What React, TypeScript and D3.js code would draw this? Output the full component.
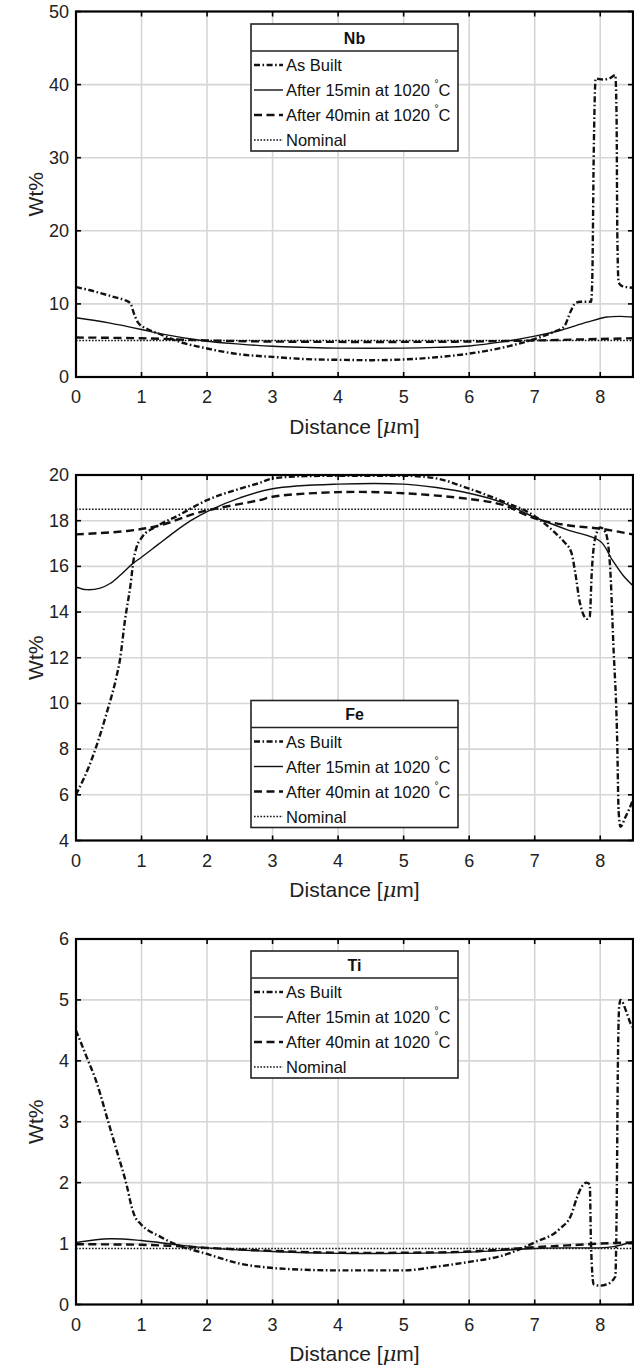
import React from "react";
import * as d3 from "d3";

// distance ticks shared by all three panels
const xTicks = [0, 1, 2, 3, 4, 5, 6, 7, 8];
const seriesNames = ["As Built", "After 15min at 1020 ", "After 40min at 1020 ", "Nominal"];

// Nb profile [distance µm, wt%]
const nbAsBuilt = [[0,12.3],[0.2,11.9],[0.4,11.4],[0.6,10.9],[0.75,10.5],[0.8,10.3],[0.84,9.9],[0.88,8.8],[0.95,7.4],[1.08,6.6],[1.3,5.8],[1.55,4.9],[2,3.9],[2.5,3.1],[3,2.75],[3.5,2.45],[4,2.35],[4.5,2.3],[5,2.4],[5.5,2.7],[6,3.2],[6.5,4.0],[7,5.2],[7.3,6.2],[7.45,6.9],[7.55,9.0],[7.62,10.1],[7.7,10.3],[7.86,10.3],[7.88,14],[7.9,30],[7.93,40.8],[8.05,40.7],[8.15,40.9],[8.23,41.3],[8.25,35],[8.26,20],[8.28,13],[8.32,12.5],[8.4,12.3],[8.5,12.2]];
const nb15 = [[0,8.1],[0.5,7.4],[1,6.5],[1.3,5.9],[2,4.9],[2.5,4.5],[3,4.2],[3.5,4.05],[4,3.95],[5,3.95],[5.5,4.05],[6,4.25],[6.5,4.8],[7,5.6],[7.4,6.4],[7.8,7.5],[8.1,8.2],[8.3,8.3],[8.5,8.2]];
const nb40 = [[0,5.4],[1,5.3],[2,5.0],[3,4.85],[4,4.8],[5,4.8],[6,4.85],[7,5.0],[8,5.2],[8.5,5.3]];
const nbNominal = 5.0;
const nbTicks = [0, 10, 20, 30, 40, 50];

// Fe profile
const feAsBuilt = [[0,6.0],[0.24,7.55],[0.47,9.6],[0.62,11.2],[0.67,11.9],[0.75,13.7],[0.83,15.15],[0.88,16.3],[0.92,16.8],[1.0,17.25],[1.23,17.75],[1.54,18.2],[2,18.9],[2.5,19.4],[2.8,19.65],[3,19.85],[3.5,19.95],[4,19.97],[5,19.97],[5.5,19.85],[6,19.4],[6.5,18.86],[7,18.2],[7.3,17.5],[7.44,17.1],[7.56,16.6],[7.62,15.7],[7.69,14.4],[7.8,13.7],[7.84,13.8],[7.87,15.7],[7.92,17.2],[8.0,17.7],[8.08,17.5],[8.15,16.0],[8.2,12.6],[8.26,8.2],[8.28,5.3],[8.31,4.6],[8.38,5.0],[8.46,5.5],[8.5,5.8]];
const fe15 = [[0,15.1],[0.16,14.98],[0.37,15.05],[0.52,15.25],[0.67,15.6],[0.87,16.13],[1.0,16.4],[1.25,16.95],[1.5,17.5],[1.75,18.0],[2,18.4],[2.5,19.0],[3,19.4],[4,19.6],[5,19.6],[5.5,19.45],[6,19.2],[6.5,18.8],[7,18.15],[7.5,17.6],[8,17.1],[8.18,16.3],[8.35,15.6],[8.5,15.15]];
const fe40 = [[0,17.4],[0.78,17.55],[1.29,17.8],[1.8,18.3],[2,18.45],[2.8,18.9],[3,19.05],[4,19.25],[5,19.2],[6,18.95],[6.5,18.7],[7,18.1],[7.5,17.8],[8,17.65],[8.5,17.4]];
const feNominal = 18.5;
const feTicks = [4, 6, 8, 10, 12, 14, 16, 18, 20];

// Ti profile
const tiAsBuilt = [[0,4.5],[0.16,4.07],[0.32,3.63],[0.47,3.08],[0.62,2.53],[0.78,1.93],[0.85,1.6],[0.9,1.44],[0.98,1.33],[1.29,1.11],[1.54,0.98],[2,0.83],[2.5,0.67],[3,0.6],[3.5,0.57],[4,0.56],[5,0.56],[5.5,0.62],[6,0.7],[6.5,0.8],[7,1.02],[7.38,1.24],[7.56,1.48],[7.64,1.74],[7.71,1.92],[7.79,2.0],[7.84,1.97],[7.86,0.95],[7.9,0.33],[8.0,0.31],[8.1,0.33],[8.23,0.46],[8.25,1.5],[8.27,4.0],[8.29,4.9],[8.31,5.0],[8.4,4.8],[8.46,4.62],[8.5,4.55]];
const ti15 = [[0,1.02],[0.52,1.08],[1.0,1.05],[1.54,0.98],[2,0.93],[3,0.87],[4,0.84],[5,0.84],[6,0.86],[7,0.92],[7.5,0.93],[8,0.93],[8.2,0.95],[8.5,1.03]];
const ti40 = [[0,0.99],[1,0.98],[1.5,0.96],[2,0.93],[3,0.88],[4,0.85],[5,0.85],[6,0.87],[7,0.94],[7.5,0.97],[8,1.0],[8.5,1.02]];
const tiNominal = 0.92;
const tiTicks = [0, 1, 2, 3, 4, 5, 6];

const W = 634, H = 1368;
const left = 76, right = 633, plotH = 365.5;
const font = "'Liberation Sans', Arial, Helvetica, sans-serif";

const styles = [
  { dash: "6,2.5,1.6,2.5", width: 2.4 },
  { dash: null, width: 1.4 },
  { dash: "8,4.5", width: 2.4 },
  { dash: "1.6,1.6", width: 1.4 },
];

function Panel({ top, title, domain, ticks, series, nominal, legendTop }) {
  const x = d3.scaleLinear().domain([0, 8.5]).range([left, right]);
  const y = d3.scaleLinear().domain(domain).range([top + plotH, top]);
  const stepLine = d3.line().x(d => x(d[0])).y(d => y(d[1])).curve(d3.curveMonotoneX);
  const smoothLine = d3.line().x(d => x(d[0])).y(d => y(d[1])).curve(d3.curveCatmullRom.alpha(0.5));
  const clipId = "clip-" + title;
  const all = [...series, [[0, nominal], [8.5, nominal]]];
  const lx = 251, lw = 207, ly = top + legendTop, lh = 127;
  return (
    <g>
      <defs>
        <clipPath id={clipId}><rect x={left} y={top} width={right - left} height={plotH} /></clipPath>
      </defs>
      {/* grid */}
      {xTicks.map(t => <line key={"gx" + t} x1={x(t)} x2={x(t)} y1={top} y2={top + plotH} stroke="#d6d6d6" strokeWidth={1.6} />)}
      {ticks.map(t => <line key={"gy" + t} x1={left} x2={right} y1={y(t)} y2={y(t)} stroke="#d6d6d6" strokeWidth={1.6} />)}
      {/* curves */}
      <g clipPath={`url(#${clipId})`}>
        {all.map((s, i) => (
          <path key={i} d={(i === 0 ? stepLine : smoothLine)(s)} fill="none" stroke="#111" strokeWidth={styles[i].width}
            strokeDasharray={styles[i].dash || undefined} />
        ))}
      </g>
      {/* ticks inside on all four sides */}
      {xTicks.map(t => (
        <g key={"tx" + t}>
          <line x1={x(t)} x2={x(t)} y1={top + plotH} y2={top + plotH - 5} stroke="#000" strokeWidth={1.6} />
          <line x1={x(t)} x2={x(t)} y1={top} y2={top + 5} stroke="#000" strokeWidth={1.6} />
          <text x={x(t)} y={top + plotH + 20} textAnchor="middle" dominantBaseline="central" fontSize={18} fontFamily={font} fill="#222">{t}</text>
        </g>
      ))}
      {ticks.map(t => (
        <g key={"ty" + t}>
          <line x1={left} x2={left + 5} y1={y(t)} y2={y(t)} stroke="#000" strokeWidth={1.6} />
          <line x1={right} x2={right - 5} y1={y(t)} y2={y(t)} stroke="#000" strokeWidth={1.6} />
          <text x={69} y={y(t)} textAnchor="end" dominantBaseline="central" fontSize={18} fontFamily={font} fill="#222">{t}</text>
        </g>
      ))}
      <rect x={left} y={top} width={right - left} height={plotH} fill="none" stroke="#000" strokeWidth={2.2} />
      <text transform={`translate(35,${top + plotH / 2}) rotate(-90)`} textAnchor="middle" dominantBaseline="central" fontSize={21} fontFamily={font} fill="#222">Wt%</text>
      <text x={(left + right) / 2} y={top + plotH + 49} textAnchor="middle" dominantBaseline="central" fontSize={21} fontFamily={font} fill="#222">
        Distance [<tspan fontStyle="italic" fontFamily="'DejaVu Serif', serif">μ</tspan>m]
      </text>
      {/* legend */}
      <rect x={lx} y={ly} width={lw} height={lh} fill="#fff" stroke="#222" strokeWidth={1.6} />
      <line x1={lx} x2={lx + lw} y1={ly + 27} y2={ly + 27} stroke="#222" strokeWidth={1.6} />
      <text x={lx + lw / 2} y={ly + 14} textAnchor="middle" dominantBaseline="central" fontSize={16} fontWeight="bold" fontFamily={font} fill="#111">{title}</text>
      {seriesNames.map((name, i) => {
        const cy = ly + 41 + i * 25;
        return (
          <g key={name}>
            <line x1={lx + 3} x2={lx + 32} y1={cy} y2={cy} stroke="#111" strokeWidth={styles[i].width}
              strokeDasharray={styles[i].dash || undefined} />
            <text x={lx + 35} y={cy} dominantBaseline="central" fontSize={16.5} fontFamily={font} fill="#111">
              {name}
              {i === 1 || i === 2 ? <><tspan fontSize={10} dy={-7}>°</tspan><tspan dy={7}>C</tspan></> : null}
            </text>
          </g>
        );
      })}
    </g>
  );
}

export default function App() {
  return (
    <svg width={W} height={H} style={{ display: "block", position: "absolute", left: 0, top: 0, background: "#fff" }}>
      <Panel top={11.5} title="Nb" domain={[0, 50]} ticks={nbTicks} series={[nbAsBuilt, nb15, nb40]} nominal={nbNominal} legendTop={12.5} />
      <Panel top={475} title="Fe" domain={[4, 20]} ticks={feTicks} series={[feAsBuilt, fe15, fe40]} nominal={feNominal} legendTop={225.5} />
      <Panel top={939} title="Ti" domain={[0, 6]} ticks={tiTicks} series={[tiAsBuilt, ti15, ti40]} nominal={tiNominal} legendTop={12} />
    </svg>
  );
}
